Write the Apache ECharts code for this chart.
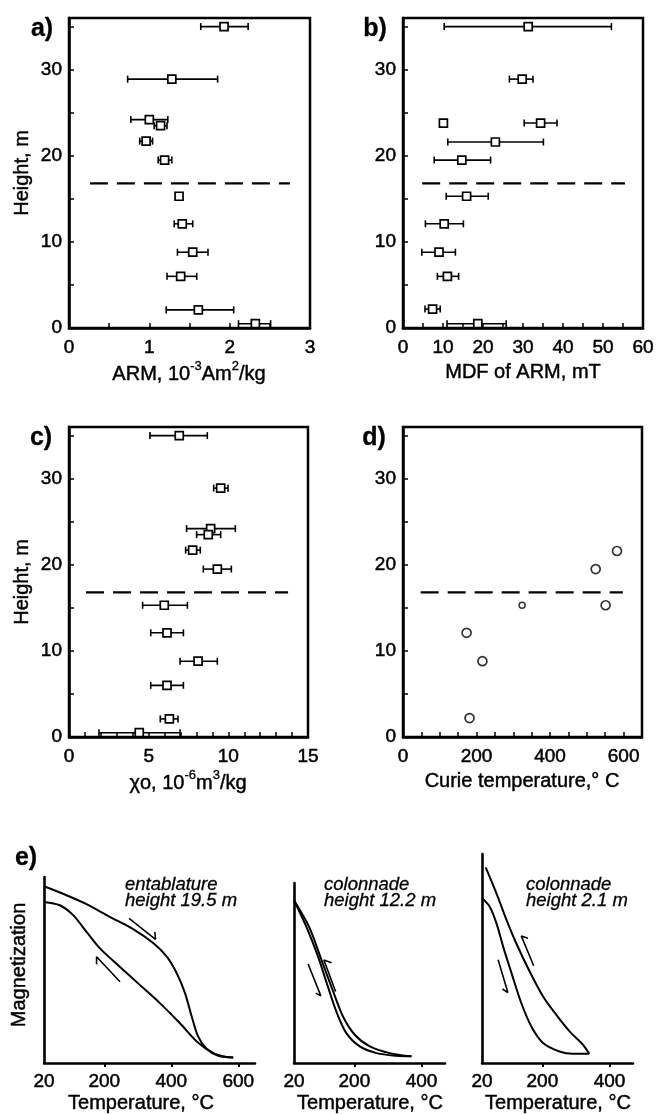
<!DOCTYPE html>
<html>
<head>
<meta charset="utf-8">
<script src="https://cdn.jsdelivr.net/npm/echarts@6/dist/echarts.min.js"></script>
<style>html,body{margin:0;padding:0;background:#fff;}#c{width:658px;height:1114px;}</style>
</head>
<body>
<div id="c"></div>
<script>
// ---------- data ----------
const heightTicks = [0, 10, 20, 30];
const boundaryHeight = 16.8;

// a) ARM
const heightsA = [35, 28.9, 24.2, 23.5, 21.7, 19.5, 15.3, 12.1, 8.8, 6.0, 2.1, 0.5];
const armValues = [1.93, 1.28, 1.00, 1.14, 0.96, 1.19, 1.37, 1.41, 1.54, 1.39, 1.61, 2.32];
const armLow    = [1.64, 0.73, 0.77, 1.06, 0.88, 1.11, 1.37, 1.31, 1.35, 1.22, 1.21, 2.11];
const armHigh   = [2.23, 1.85, 1.23, 1.22, 1.04, 1.28, 1.37, 1.54, 1.73, 1.59, 2.05, 2.51];
const armTicks = [0, 1, 2, 3];
const armBoundary = [0.26, 2.75];

// b) MDF of ARM
const heightsB = [35, 28.9, 23.8, 23.8, 21.6, 19.5, 15.3, 12.1, 8.8, 6.0, 2.2, 0.5];
const mdfValues = [31.3, 29.8, 10.1, 34.4, 23.1, 14.7, 15.9, 10.3, 9.0, 11.1, 7.4, 18.7];
const mdfLow    = [10.3, 26.6, 10.1, 30.3, 11.2, 7.8, 10.8, 5.6, 4.7, 8.6, 5.5, 11.0];
const mdfHigh   = [52.1, 32.5, 10.1, 38.5, 35.1, 21.9, 21.3, 15.1, 13.1, 13.9, 9.3, 25.8];
const mdfTicks = [0, 10, 20, 30, 40, 50, 60];
const mdfBoundary = [4.8, 55.5];

// c) susceptibility
const heightsC = [35, 28.9, 24.2, 23.5, 21.7, 19.5, 15.3, 12.1, 8.8, 6.0, 2.1, 0.5];
const chiValues = [6.92, 9.52, 8.89, 8.74, 7.76, 9.31, 5.98, 6.15, 8.10, 6.15, 6.30, 4.41];
const chiLow    = [5.08, 9.08, 7.38, 8.01, 7.32, 8.43, 4.62, 5.13, 6.97, 5.13, 5.73, 1.88];
const chiHigh   = [8.68, 9.98, 10.44, 9.52, 8.24, 10.19, 7.43, 7.18, 9.31, 7.18, 6.84, 6.97];
const chiTicks = [0, 5, 10, 15];
const chiBoundary = [1.07, 13.75];

// d) Curie temperature
const curieTemps   = [173, 216, 181, 524, 582, 551];
const curieHeights = [12.1, 8.8, 2.2, 19.5, 21.6, 15.3];
const curieSmallTemps = [324];
const curieSmallHeights = [15.3];
const curieTicks = [0, 200, 400, 600];
const curieBoundary = [48, 598];

// e) thermomagnetic curves (T in deg C, normalised magnetization)
const e1HeatT = [20, 87, 147, 216, 286, 346, 386, 416, 441, 461, 480, 506, 540, 585];
const e1HeatM = [0.950, 0.902, 0.854, 0.786, 0.720, 0.645, 0.573, 0.484, 0.376, 0.250, 0.143, 0.075, 0.039, 0.030];
const e1CoolT = [20, 67, 107, 147, 187, 246, 306, 366, 426, 476, 525, 565, 585];
const e1CoolM = [0.866, 0.848, 0.795, 0.705, 0.616, 0.518, 0.420, 0.322, 0.214, 0.116, 0.054, 0.032, 0.030];
const e1ArrowHeat = [[274, 0.777], [353, 0.665], [351, 0.705]];
const e1ArrowCool = [[247, 0.437], [177, 0.571], [177, 0.531]];

const e2HeatT = [20, 57, 92, 121, 148, 176, 216, 266, 325, 370];
const e2HeatM = [0.904, 0.756, 0.590, 0.424, 0.277, 0.166, 0.092, 0.055, 0.040, 0.037];
const e2CoolT = [20, 65, 102, 135, 166, 201, 246, 305, 370];
const e2CoolM = [0.904, 0.756, 0.572, 0.406, 0.258, 0.157, 0.092, 0.055, 0.037];
const e2ArrowHeat = [[62, 0.550], [100, 0.373], [85, 0.388]];
const e2ArrowCool = [[144, 0.397], [109, 0.572], [132, 0.557]];

const e3HeatT = [20, 43, 63, 83, 108, 137, 167, 202, 251, 291, 340];
const e3HeatM = [0.788, 0.748, 0.669, 0.557, 0.430, 0.287, 0.175, 0.096, 0.055, 0.044, 0.044];
const e3CoolT = [31, 63, 93, 122, 162, 202, 241, 281, 321, 340];
const e3CoolM = [0.936, 0.812, 0.685, 0.573, 0.438, 0.318, 0.231, 0.151, 0.087, 0.044];
const e3ArrowHeat = [[68, 0.494], [97, 0.337], [81, 0.354]];
const e3ArrowCool = [[174, 0.465], [137, 0.608], [157, 0.597]];
const eTicks1 = [20, 200, 400, 600];
const eTicks2 = [20, 200, 400];

// ---------- helpers ----------
const FONT = "'Liberation Sans', Arial, Helvetica, sans-serif";
const LBL = 19;
const HEAVY = { textBorderColor: '#000', textBorderWidth: 0.5 };
const zip = (a, b) => a.map((v, i) => [v, b[i]]);
const isIn = (list, v) => list.some(t => Math.abs(t - v) < 1e-6);

function frameX(idx, min, max, step, labels) {
  return {
    type: 'value', gridIndex: idx, min: min, max: max, interval: step,
    axisLine: { show: true, lineStyle: { color: '#000', width: 2.5 } },
    axisTick: { show: true, inside: true, length: 5, lineStyle: { color: '#000', width: 1.5 } },
    axisLabel: Object.assign({ margin: 10, color: '#000', fontSize: LBL, fontFamily: FONT,
      formatter: v => isIn(labels, v) ? String(Math.round(v)) : '' }, HEAVY),
    splitLine: { show: false }
  };
}
function frameY(idx) {
  return {
    type: 'value', gridIndex: idx, min: 0, max: 36, interval: 5,
    axisLine: { show: true, lineStyle: { color: '#000', width: 2.5 } },
    axisTick: { show: true, inside: true, length: 5, lineStyle: { color: '#000', width: 1.5 } },
    axisLabel: Object.assign({ margin: 7, color: '#000', fontSize: LBL, fontFamily: FONT,
      formatter: v => isIn(heightTicks, v) ? String(v) : '' }, HEAVY),
    splitLine: { show: false }
  };
}
function errSeries(idx, low, high, h) {
  return {
    type: 'custom', xAxisIndex: idx, yAxisIndex: idx, z: 3, silent: true,
    data: h.map((y, i) => [low[i], high[i], y]),
    encode: { x: [0, 1], y: 2 },
    renderItem: (params, api) => {
      const y = api.value(2);
      const p1 = api.coord([api.value(0), y]);
      const p2 = api.coord([api.value(1), y]);
      if (Math.abs(p2[0] - p1[0]) < 1) return { type: 'group', children: [] };
      const cap = 3.5, st = { stroke: '#000', lineWidth: 1.6 };
      return { type: 'group', children: [
        { type: 'line', shape: { x1: p1[0], y1: p1[1], x2: p2[0], y2: p2[1] }, style: st },
        { type: 'line', shape: { x1: p1[0], y1: p1[1] - cap, x2: p1[0], y2: p1[1] + cap }, style: st },
        { type: 'line', shape: { x1: p2[0], y1: p2[1] - cap, x2: p2[0], y2: p2[1] + cap }, style: st }
      ] };
    }
  };
}
function squares(idx, xs, ys) {
  return { type: 'scatter', xAxisIndex: idx, yAxisIndex: idx, z: 5, symbol: 'rect', symbolSize: 8,
    itemStyle: { color: '#fff', borderColor: '#000', borderWidth: 1.7, opacity: 1 },
    data: zip(xs, ys) };
}
function dashed(idx, ext) {
  return { type: 'line', xAxisIndex: idx, yAxisIndex: idx, z: 2, symbol: 'none', silent: true,
    lineStyle: { color: '#000', width: 2.2, type: [18, 9] },
    data: [[ext[0], boundaryHeight], [ext[1], boundaryHeight]] };
}
function curve(idx, xs, ys) {
  return { type: 'line', xAxisIndex: idx, yAxisIndex: idx, smooth: 0.3, symbol: 'none', silent: true,
    lineStyle: { color: '#000', width: 2 }, data: zip(xs, ys) };
}
function arrow(idx, pts) {
  return { type: 'line', xAxisIndex: idx, yAxisIndex: idx, symbol: 'none', silent: true,
    lineStyle: { color: '#000', width: 1.6 }, data: pts };
}
function eX(idx, max, labels) {
  return {
    type: 'value', gridIndex: idx, min: 20, max: max,
    axisLine: { show: true, lineStyle: { color: '#000', width: 2.5 } },
    axisTick: { show: true, inside: false, length: 4, lineStyle: { color: '#000', width: 2 },
      customValues: labels.slice(1) },
    axisLabel: Object.assign({ margin: 9, color: '#000', fontSize: 19, fontFamily: FONT, customValues: labels }, HEAVY),
    splitLine: { show: false }
  };
}
function eY(idx) {
  return { type: 'value', gridIndex: idx, min: 0, max: 1,
    axisLine: { show: true, lineStyle: { color: '#000', width: 2.6 } },
    axisTick: { show: false }, axisLabel: { show: false }, splitLine: { show: false } };
}
function txt(x, y, text, opt) {
  return Object.assign({ type: 'text', x: x, y: y,
    style: Object.assign({ text: text, fill: '#000', fontFamily: FONT, fontSize: 20,
      align: 'center', verticalAlign: 'middle', stroke: '#000', lineWidth: 0.45 }, (opt && opt.style) || {}) },
    (opt && opt.rotation !== undefined) ? { rotation: opt.rotation } : {});
}
const supRich = {
  n: { fontSize: 20, fontFamily: FONT, lineHeight: 25, verticalAlign: 'bottom', fill: '#000', stroke: '#000', lineWidth: 0.45 },
  s: { fontSize: 13, fontFamily: FONT, lineHeight: 13, verticalAlign: 'top', fill: '#000', stroke: '#000', lineWidth: 0.35 }
};
function richTxt(x, y, text) {
  return { type: 'text', x: x, y: y,
    style: { text: text, rich: supRich, fill: '#000', fontFamily: FONT, fontSize: 20,
      align: 'center', verticalAlign: 'middle' } };
}
function note(x, text) {
  return { type: 'text', x: x, y: 893, style: { text: text, fill: '#000', fontFamily: FONT,
    fontSize: 18.5, fontStyle: 'italic', lineHeight: 16, align: 'left', verticalAlign: 'middle',
    stroke: '#000', lineWidth: 0.3 } };
}

// ---------- chart ----------
const chart = echarts.init(document.getElementById('c'), null, { renderer: 'canvas' });
const frameGrid = { show: true, borderColor: '#000', borderWidth: 2.5, backgroundColor: 'transparent' };
const option = {
  animation: false,
  backgroundColor: '#fff',
  grid: [
    Object.assign({ left: 69, top: 18, width: 241, height: 310 }, frameGrid),
    Object.assign({ left: 403, top: 18, width: 240, height: 310 }, frameGrid),
    Object.assign({ left: 69, top: 427, width: 239, height: 310 }, frameGrid),
    Object.assign({ left: 403, top: 427, width: 239, height: 310 }, frameGrid),
    { left: 44, top: 877, width: 211, height: 186 },
    { left: 294, top: 883, width: 151, height: 180 },
    { left: 482, top: 854, width: 151, height: 209 }
  ],
  xAxis: [
    frameX(0, 0, 3, 0.5, armTicks),
    frameX(1, 0, 60, 5, mdfTicks),
    frameX(2, 0, 15, 1, chiTicks),
    frameX(3, 0, 650, 50, curieTicks),
    eX(4, 650, eTicks1),
    eX(5, 470, eTicks2),
    eX(6, 470, eTicks2)
  ],
  yAxis: [frameY(0), frameY(1), frameY(2), frameY(3), eY(4), eY(5), eY(6)],
  series: [
    dashed(0, armBoundary), errSeries(0, armLow, armHigh, heightsA), squares(0, armValues, heightsA),
    dashed(1, mdfBoundary), errSeries(1, mdfLow, mdfHigh, heightsB), squares(1, mdfValues, heightsB),
    dashed(2, chiBoundary), errSeries(2, chiLow, chiHigh, heightsC), squares(2, chiValues, heightsC),
    dashed(3, curieBoundary),
    { type: 'scatter', xAxisIndex: 3, yAxisIndex: 3, z: 5, symbol: 'circle', symbolSize: 9,
      itemStyle: { color: '#fff', borderColor: '#000', borderWidth: 1.7 }, data: zip(curieTemps, curieHeights) },
    { type: 'scatter', xAxisIndex: 3, yAxisIndex: 3, z: 5, symbol: 'circle', symbolSize: 6,
      itemStyle: { color: '#fff', borderColor: '#000', borderWidth: 1.5 }, data: zip(curieSmallTemps, curieSmallHeights) },
    curve(4, e1HeatT, e1HeatM), curve(4, e1CoolT, e1CoolM), arrow(4, e1ArrowHeat), arrow(4, e1ArrowCool),
    curve(5, e2HeatT, e2HeatM), curve(5, e2CoolT, e2CoolM), arrow(5, e2ArrowHeat), arrow(5, e2ArrowCool),
    curve(6, e3HeatT, e3HeatM), curve(6, e3CoolT, e3CoolM), arrow(6, e3ArrowHeat), arrow(6, e3ArrowCool)
  ],
  graphic: [
    txt(42, 29, 'a)', { style: { fontSize: 25, fontWeight: 'bold', lineWidth: 0.3 } }),
    txt(375, 29, 'b)', { style: { fontSize: 25, fontWeight: 'bold', lineWidth: 0.3 } }),
    txt(41, 438, 'c)', { style: { fontSize: 25, fontWeight: 'bold', lineWidth: 0.3 } }),
    txt(374, 438, 'd)', { style: { fontSize: 25, fontWeight: 'bold', lineWidth: 0.3 } }),
    txt(26, 858, 'e)', { style: { fontSize: 25, fontWeight: 'bold', lineWidth: 0.3 } }),
    txt(22, 173, 'Height, m', { rotation: Math.PI / 2 }),
    txt(22, 582, 'Height, m', { rotation: Math.PI / 2 }),
    txt(19, 965, 'Magnetization', { rotation: Math.PI / 2 }),
    richTxt(189, 372, '{n|ARM, 10}{s|-3}{n|Am}{s|2}{n|/kg}'),
    txt(523, 372, 'MDF of ARM, mT'),
    richTxt(188, 781, '{n|χo, 10}{s|-6}{n|m}{s|3}{n|/kg}'),
    txt(522, 781, 'Curie temperature,° C'),
    txt(141, 1103, 'Temperature, °C'),
    txt(370, 1103, 'Temperature, °C'),
    txt(558, 1103, 'Temperature, °C'),
    note(125, 'entablature\nheight 19.5 m'),
    note(324, 'colonnade\nheight 12.2 m'),
    note(526, 'colonnade\nheight 2.1 m')
  ]
};
chart.setOption(option);
</script>
</body>
</html>
